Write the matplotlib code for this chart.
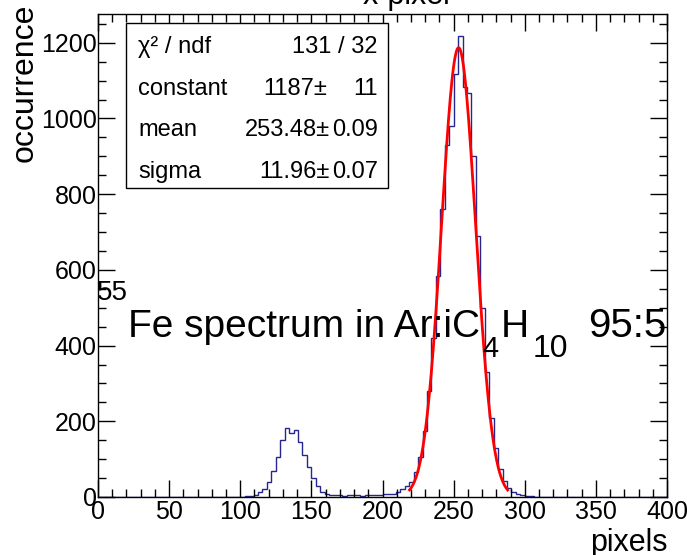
import numpy as np
import matplotlib
matplotlib.use('Agg')
from matplotlib import pyplot as plt
from matplotlib.ticker import MultipleLocator
from matplotlib.patches import Rectangle

plt.rcParams['font.family'] = ['Liberation Sans', 'DejaVu Sans']

# histogram: 128 bins from 0 to 400 pixels
x_min, x_max, n_bins = 0, 400, 128
counts = [0] * 32 + [
    1, 2, 3, 6, 12, 22, 40, 68, 105, 150,          # 32-41
    183, 170, 178, 145, 112, 80, 50, 28, 12, 7,    # 42-51
    5, 4, 6, 3, 5, 4, 6, 3, 5, 4,                  # 52-61
    6, 5, 7, 9, 8, 12, 20, 28, 40, 65,             # 62-71
    105, 175, 280, 420, 585, 760, 930, 981, 1118, 1219,  # 72-81
    1082, 1068, 900, 690, 500, 330, 210, 130, 75, 42,    # 82-91
    24, 14, 9, 6, 3, 2, 1,                          # 92-98
] + [0] * 29

# gaussian fit result (stat box)
fit_const, fit_mean, fit_sigma = 1187, 253.48, 11.96
fit_range = (219, 288)
stat_labels = ['χ² / ndf', 'constant', 'mean', 'sigma']
stat_values = ['', '1187±', '253.48±', '11.96±']
stat_errors = ['131 / 32', '11', '0.09', '0.07']

edges = np.linspace(x_min, x_max, n_bins + 1)

fig = plt.figure(figsize=(6.87, 5.55), dpi=100)
W, H = 687, 555
ax = fig.add_axes([98 / W, 1 - 497 / H, (667 - 98) / W, (497 - 14) / H])

ax.stairs(counts, edges, color='#26268f', linewidth=1.0)
xf = np.linspace(fit_range[0], fit_range[1], 300)
ax.plot(xf, fit_const * np.exp(-0.5 * ((xf - fit_mean) / fit_sigma) ** 2),
        color='#ff0000', linewidth=2)

ax.set_xlim(0, 400)
ax.set_ylim(0, 1276)
ax.xaxis.set_major_locator(MultipleLocator(50))
ax.xaxis.set_minor_locator(MultipleLocator(10))
ax.yaxis.set_major_locator(MultipleLocator(200))
ax.yaxis.set_minor_locator(MultipleLocator(50))
ax.tick_params(which='both', direction='in', top=True, right=True,
               labelsize=18, width=1, colors='black')
ax.tick_params(which='major', length=12)
ax.tick_params(which='minor', length=6)
ax.tick_params(axis='x', which='major', pad=2)
ax.tick_params(axis='y', which='major', pad=1)
for s in ax.spines.values():
    s.set_linewidth(1)

fig.text(668 / W, 1 - 551 / H, 'pixels', fontsize=22, ha='right', va='baseline')
fig.text(10 / W, 1 - 4 / H, 'occurrence', fontsize=23, rotation=90,
         ha='left', va='top')
fig.text(407 / W, 1 - 4 / H, 'x-pixel', fontsize=22, ha='center', va='baseline')

# stat box
fig.patches.append(Rectangle((126 / W, 1 - 188 / H), (388 - 126) / W, (188 - 23) / H,
                             transform=fig.transFigure, facecolor='white',
                             edgecolor='black', linewidth=1, zorder=5))
rows_y = [53, 95, 136, 178]
for i in range(len(stat_labels)):
    yy = 1 - rows_y[i] / H
    fig.text(138 / W, yy, stat_labels[i], fontsize=17, ha='left', va='baseline', zorder=6)
    if stat_values[i]:
        xr = 327 if i == 1 else 330
        fig.text(xr / W, yy, stat_values[i], fontsize=17, ha='right', va='baseline', zorder=6)
    fig.text(378 / W, yy, stat_errors[i], fontsize=17, ha='right', va='baseline', zorder=6)

# big label, built piece by piece (ROOT-like super/subscripts)
pieces = [('55', 20, 37, 0), ('Fe spectrum in Ar:iC', 28, 0, 2),
          ('4', 21, -20, 3), ('H', 28, 0, 3), ('10', 23, -20, 20), ('95:5', 29, 0, 0)]
renderer = fig.canvas.get_renderer()
xpos = 97
for txt, size, dy, gap in pieces:
    t = fig.text(xpos / W, 1 - (337 - dy) / H, txt, fontsize=size,
                 ha='left', va='baseline', zorder=7)
    bb = t.get_window_extent(renderer)
    xpos = bb.x1 + gap

fig.savefig('out.png', dpi=100)
